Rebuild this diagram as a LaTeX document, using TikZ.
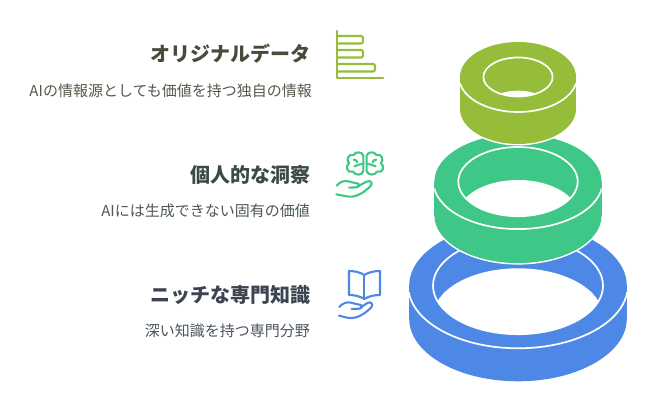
\documentclass[tikz,border=0pt]{standalone}
\usepackage{fontspec}
\setmainfont{Noto Sans CJK JP}
\definecolor{olivec}{HTML}{95BD3A}
\definecolor{greenc}{HTML}{3EC786}
\definecolor{bluec}{HTML}{4E88E7}
\definecolor{titlea}{HTML}{484A3C}
\definecolor{titleb}{HTML}{3C4A45}
\definecolor{titlec}{HTML}{3C4452}
\definecolor{desca}{HTML}{56584C}
\definecolor{descb}{HTML}{4C5853}
\definecolor{descc}{HTML}{4C5460}
\tikzset{
  title/.style={anchor=mid east,inner sep=0pt,font=\fontsize{20}{20}\selectfont\bfseries},
  desc/.style={anchor=mid east,inner sep=0pt,font=\fontsize{15}{15}\selectfont},
  iconline/.style={line width=2.1pt,line cap=round,line join=round,fill=none},
}
% cx cy rx ry h irx iry holecy colour
\newcommand{\ringdraw}[9]{%
  \draw[white,line width=3pt] (#1,#2) ellipse [x radius=#3pt,y radius=#4pt];
  \draw[white,line width=3pt] (#1,#2+#5) ellipse [x radius=#3pt,y radius=#4pt];
  \draw[white,line width=3pt] (#1-#3,#2) rectangle (#1+#3,#2+#5);
  \fill[#9] (#1,#2) ellipse [x radius=#3pt,y radius=#4pt];
  \fill[#9] (#1,#2+#5) ellipse [x radius=#3pt,y radius=#4pt];
  \fill[#9] (#1-#3,#2) rectangle (#1+#3,#2+#5);
  \begin{scope}
    \clip (#1,#2) ellipse [x radius=#6pt,y radius=#7pt];
    \fill[white] (#1,#8) ellipse [x radius=#6pt,y radius=#7pt];
  \end{scope}
  \draw[white,line width=1.7pt] (#1,#2) ellipse [x radius=#6pt,y radius=#7pt];
  \begin{scope}
    \clip (#1-#3,#2+7) rectangle (#1+#3,#2+#4+3);
    \draw[white,line width=1.7pt] (#1,#2) ellipse [x radius=#3pt+1pt,y radius=#4pt];
  \end{scope}
}
\begin{document}
\begin{tikzpicture}[x=1pt,y=-1pt]
\useasboundingbox (0,0) rectangle (652,403);
\ringdraw{518}{285.7}{108.8}{62.6}{33}{85}{48.5}{316.8}{bluec}
\ringdraw{518}{181.6}{83.6}{47.5}{34}{59.7}{34.6}{214.6}{greenc}
\ringdraw{518}{77}{58}{35}{32}{34.6}{19.5}{110.2}{olivec}

\node[title,text=titlea] (t1) at (311,59) {オリジナルデータ};
\node[desc,text=desca] (d1) at (312,94) {AIの情報源としても価値を持つ独自の情報};
\node[title,text=titleb] (t2) at (311,180) {個人的な洞察};
\node[desc,text=descb] (d2) at (310,214) {AIには生成できない固有の価値};
\node[title,text=titlec] (t3) at (311,300) {ニッチな専門知識};
\node[desc,text=descc] (d3) at (310,334) {深い知識を持つ専門分野};

% chart icon
\begin{scope}[iconline,draw=olivec]
  \draw (337,31) -- (337,78) -- (383,78);
  \draw[rounded corners=2pt] (337,36) -- (363,36) -- (363,43.5) -- (337,43.5);
  \draw[rounded corners=2pt] (337,50) -- (363,50) -- (363,57.5) -- (337,57.5);
  \draw[rounded corners=2pt] (337,64) -- (375,64) -- (375,71.5) -- (337,71.5);
\end{scope}

% brain + hand icon
\begin{scope}[iconline,draw=greenc,shift={(325,145)},x=0.3333pt,y=-0.3333pt]
  % left lobe
  \draw (115,32) .. controls (112,20) and (92,18) .. (86,30)
        .. controls (70,26) and (62,44) .. (72,54)
        .. controls (60,64) and (66,86) .. (84,80)
        .. controls (90,92) and (112,92) .. (115,78) -- cycle;
  % right lobe
  \draw (125,32) .. controls (128,20) and (148,18) .. (154,30)
        .. controls (170,26) and (178,44) .. (168,54)
        .. controls (180,64) and (174,86) .. (156,80)
        .. controls (150,92) and (128,92) .. (125,78) -- cycle;
  \draw (86,44) .. controls (92,44) and (97,48) .. (97,52);
  \draw (115,56) .. controls (105,56) and (95,62) .. (88,64);
  \draw (154,44) .. controls (148,44) and (143,48) .. (143,52);
  \draw (125,56) .. controls (135,56) and (145,62) .. (152,64);
  % hand
  \draw (35,122) .. controls (45,110) and (58,106) .. (70,109)
        .. controls (80,111) and (90,115) .. (100,116)
        .. controls (106,118) and (104,127) .. (96,127) -- (72,128);
  \draw (98,124) -- (125,110) .. controls (135,104) and (146,114) .. (136,124)
        .. controls (125,135) and (112,145) .. (97,151)
        .. controls (85,156) and (70,156) .. (60,153) -- (34,148);
\end{scope}

% book + hand icon
\begin{scope}[iconline,draw=bluec,shift={(325,265)},x=0.3333pt,y=-0.3333pt]
  \draw (118,30) .. controls (105,22) and (90,18) .. (72,18) -- (72,90)
        .. controls (90,90) and (105,94) .. (118,102)
        .. controls (131,94) and (146,90) .. (165,90) -- (165,18)
        .. controls (146,18) and (131,22) .. (118,30) -- cycle;
  \draw (118,30) -- (118,102);
  \draw (43,126) .. controls (53,114) and (66,110) .. (78,113)
        .. controls (88,115) and (98,119) .. (108,120)
        .. controls (114,122) and (112,131) .. (104,131) -- (80,132);
  \draw (106,128) -- (127,114) .. controls (137,108) and (148,118) .. (138,128)
        .. controls (127,139) and (114,149) .. (99,155)
        .. controls (87,160) and (72,160) .. (62,157) -- (42,152);
\end{scope}
\end{tikzpicture}
\end{document}
